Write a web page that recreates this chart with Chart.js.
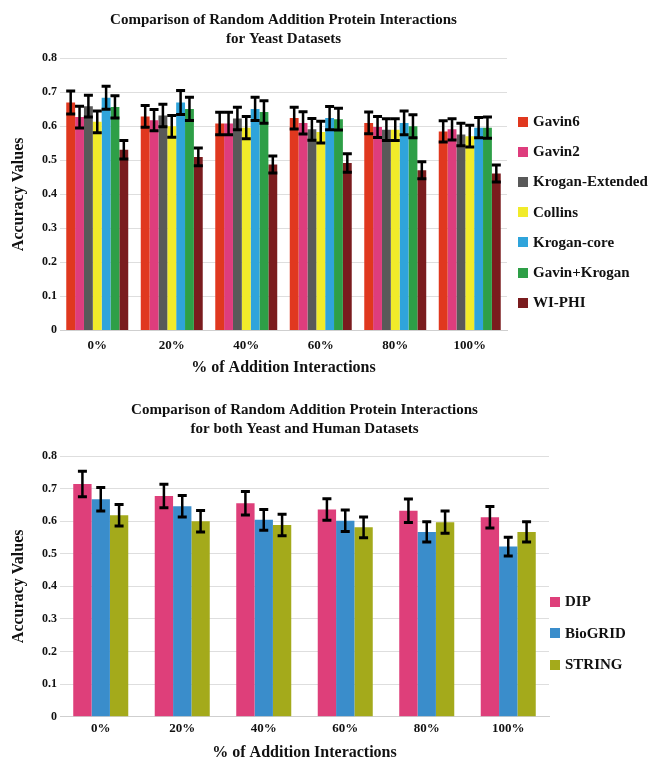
<!DOCTYPE html>
<html>
<head>
<meta charset="utf-8">
<title>Random Addition Protein Interactions</title>
<script src="https://cdn.jsdelivr.net/npm/chart.js@4/dist/chart.umd.min.js"></script>
<style>
  html, body { margin: 0; padding: 0; background: #fff; width: 648px; height: 762px; overflow: hidden; }
  .panel { position: absolute; left: 0; width: 648px; }
  .legend { position: absolute; font: bold 15px "Liberation Serif", "Times New Roman", serif; color: #111; }
  .legend .item { position: absolute; left: 0; height: 18px; display: flex; align-items: center; white-space: nowrap; }
  .legend .sw { width: 10px; height: 10px; margin-right: 5px; flex: none; }
</style>
</head>
<body>
<div class="panel" style="top:0;height:380px;">
  <canvas id="yeastChart" width="648" height="380"></canvas>
</div>
<div id="yeastLegend" class="legend" style="left:518px;top:0;"></div>

<div class="panel" style="top:380px;height:382px;">
  <canvas id="humanChart" width="648" height="382"></canvas>
</div>
<div id="humanLegend" class="legend" style="left:550px;top:0;"></div>

<script>
// ---- shared axis data ----
const categories = ['0%', '20%', '40%', '60%', '80%', '100%'];
const yTickLabels = ['0', '0.1', '0.2', '0.3', '0.4', '0.5', '0.6', '0.7', '0.8'];

// ---- yeast datasets (mean accuracy and error) ----
const yeastNames = ['Gavin6', 'Gavin2', 'Krogan-Extended', 'Collins', 'Krogan-core', 'Gavin+Krogan', 'WI-PHI'];
const yeastColors = ['#E0381F', '#DE3D7D', '#595959', '#F1EB2A', '#2FA4DB', '#2E9F47', '#7A1C1E'];

const gavin6         = [0.670, 0.629, 0.608, 0.624, 0.610, 0.585];
const gavin2         = [0.627, 0.618, 0.608, 0.610, 0.598, 0.591];
const kroganExtended = [0.659, 0.632, 0.623, 0.591, 0.590, 0.576];
const collins        = [0.613, 0.600, 0.596, 0.583, 0.590, 0.571];
const kroganCore     = [0.684, 0.670, 0.651, 0.624, 0.610, 0.596];
const gavinKrogan    = [0.657, 0.651, 0.642, 0.621, 0.600, 0.596];
const wiPhi          = [0.531, 0.510, 0.488, 0.492, 0.471, 0.461];

const gavin6Err         = [0.034, 0.032, 0.033, 0.032, 0.032, 0.031];
const gavin2Err         = [0.032, 0.031, 0.033, 0.033, 0.031, 0.031];
const kroganExtendedErr = [0.032, 0.033, 0.033, 0.032, 0.032, 0.033];
const collinsErr        = [0.032, 0.032, 0.033, 0.032, 0.032, 0.032];
const kroganCoreErr     = [0.034, 0.035, 0.034, 0.034, 0.035, 0.030];
const gavinKroganErr    = [0.033, 0.034, 0.033, 0.032, 0.034, 0.031];
const wiPhiErr          = [0.027, 0.026, 0.025, 0.027, 0.025, 0.025];

// ---- yeast + human datasets ----
const humanNames = ['DIP', 'BioGRID', 'STRING'];
const humanColors = ['#DE3F7A', '#3A8DCB', '#A4AA1B'];

const dip      = [0.714, 0.677, 0.655, 0.636, 0.632, 0.612];
const bioGrid  = [0.667, 0.646, 0.604, 0.601, 0.567, 0.522];
const stringDb = [0.618, 0.600, 0.588, 0.581, 0.597, 0.567];

const dipErr     = [0.039, 0.036, 0.036, 0.033, 0.036, 0.033];
const bioGridErr = [0.036, 0.033, 0.032, 0.033, 0.031, 0.029];
const stringErr  = [0.033, 0.033, 0.033, 0.032, 0.034, 0.031];

const SERIF = '"Liberation Serif", "Times New Roman", serif';
const INK = '#111';

// Draws a capped error bar on top of every bar, from value - err to value + err.
const errorBars = {
  id: 'errorBars',
  afterDatasetsDraw(chart, args, opts) {
    const { ctx } = chart;
    const yScale = chart.scales.y;
    ctx.save();
    ctx.strokeStyle = opts.color || '#000';
    ctx.lineCap = 'butt';
    chart.data.datasets.forEach((ds, di) => {
      const meta = chart.getDatasetMeta(di);
      if (meta.hidden || !ds.errors) return;
      meta.data.forEach((bar, i) => {
        const v = ds.data[i];
        const e = ds.errors[i];
        const yHi = yScale.getPixelForValue(v + e);
        const yLo = yScale.getPixelForValue(v - e);
        const half = opts.capHalf;
        ctx.lineWidth = opts.lineWidth;
        ctx.beginPath();
        ctx.moveTo(bar.x, yHi);
        ctx.lineTo(bar.x, yLo);
        ctx.stroke();
        ctx.lineWidth = opts.capWidth;
        ctx.beginPath();
        ctx.moveTo(bar.x - half, yHi);
        ctx.lineTo(bar.x + half, yHi);
        ctx.moveTo(bar.x - half, yLo);
        ctx.lineTo(bar.x + half, yLo);
        ctx.stroke();
      });
    });
    ctx.restore();
  }
};

function buildDatasets(names, colors, values, errors) {
  return names.map((name, k) => ({
    label: name,
    data: values[k],
    errors: errors[k],
    backgroundColor: colors[k],
    borderWidth: 0,
    barPercentage: 1.0
  }));
}

function buildOptions(cfg) {
  return {
    responsive: false,
    animation: false,
    devicePixelRatio: 1,
    layout: { padding: { left: 0, right: cfg.padRight, top: 0, bottom: 0 } },
    datasets: { bar: { categoryPercentage: cfg.catPct, barPercentage: 1.0 } },
    plugins: {
      legend: { display: false },
      tooltip: { enabled: false },
      title: {
        display: true,
        text: cfg.title,
        fullSize: false,
        color: INK,
        font: { family: SERIF, size: 15, weight: 'bold', lineHeight: 1.3 },
        padding: cfg.titlePad
      },
      errorBars: { color: '#000', lineWidth: 2.5, capWidth: 3, capHalf: 4.5 }
    },
    scales: {
      x: {
        grid: { display: false, drawTicks: false },
        border: { display: true, color: '#cfcfcf', width: 1 },
        ticks: { color: INK, padding: cfg.xTickPad, font: { family: SERIF, size: 13, weight: 'bold' } },
        title: {
          display: true,
          text: '% of Addition Interactions',
          color: INK,
          font: { family: SERIF, size: 16, weight: 'bold', lineHeight: 1.0 },
          padding: cfg.xTitlePad
        }
      },
      y: {
        min: 0,
        max: 0.8,
        afterFit(scale) { scale.width = 60; },
        grid: { color: '#dedede', lineWidth: 1, drawTicks: false },
        border: { display: false },
        ticks: {
          stepSize: 0.1,
          padding: 3,
          color: INK,
          font: { family: SERIF, size: 12, weight: 'bold' },
          callback: (value, index) => yTickLabels[index]
        },
        title: {
          display: true,
          text: 'Accuracy Values',
          color: INK,
          font: { family: SERIF, size: 16, weight: 'bold', lineHeight: 1.2 },
          padding: { top: 9.5, bottom: 0 }
        }
      }
    }
  };
}

function buildLegend(id, names, colors, firstCenter, step) {
  const box = document.getElementById(id);
  names.forEach((name, k) => {
    const item = document.createElement('div');
    item.className = 'item';
    item.style.top = (firstCenter + k * step - 9) + 'px';
    const sw = document.createElement('span');
    sw.className = 'sw';
    sw.style.background = colors[k];
    const label = document.createElement('span');
    label.textContent = name;
    item.appendChild(sw);
    item.appendChild(label);
    box.appendChild(item);
  });
}

new Chart(document.getElementById('yeastChart'), {
  type: 'bar',
  data: {
    labels: categories,
    datasets: buildDatasets(
      yeastNames, yeastColors,
      [gavin6, gavin2, kroganExtended, collins, kroganCore, gavinKrogan, wiPhi],
      [gavin6Err, gavin2Err, kroganExtendedErr, collinsErr, kroganCoreErr, gavinKroganErr, wiPhiErr]
    )
  },
  options: buildOptions({
    title: ['Comparison of Random Addition Protein Interactions', 'for Yeast Datasets'],
    titlePad: { top: 10.25, bottom: 9 },
    xTickPad: 7,
    xTitlePad: { top: 0, bottom: 4 },
    catPct: 0.832,
    padRight: 141
  }),
  plugins: [errorBars]
});

new Chart(document.getElementById('humanChart'), {
  type: 'bar',
  data: {
    labels: categories,
    datasets: buildDatasets(
      humanNames, humanColors,
      [dip, bioGrid, stringDb],
      [dipErr, bioGridErr, stringErr]
    )
  },
  options: buildOptions({
    title: ['Comparison of Random Addition Protein Interactions', 'for both Yeast and Human Datasets'],
    titlePad: { top: 20, bottom: 17 },
    xTickPad: 4.5,
    xTitlePad: { top: 3.7, bottom: 1 },
    catPct: 0.675,
    padRight: 99
  }),
  plugins: [errorBars]
});

buildLegend('yeastLegend', yeastNames, yeastColors, 121.5, 30.2);
buildLegend('humanLegend', humanNames, humanColors, 601.7, 31.5);
</script>
</body>
</html>
